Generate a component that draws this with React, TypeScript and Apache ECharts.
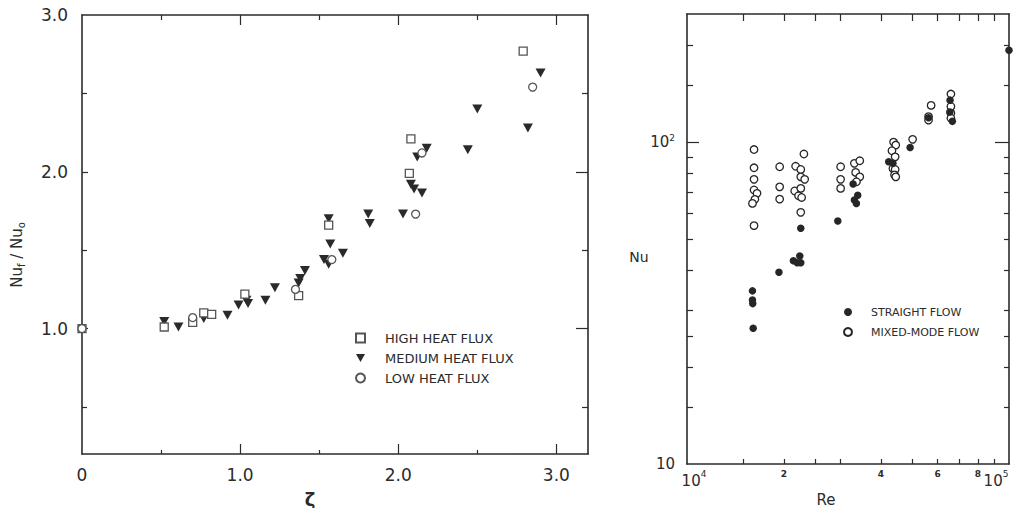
import React, { useEffect, useRef } from "react";
import * as echarts from "echarts";

const INK = "#2b2b2b";
const FONT = "DejaVu Sans";

// ---------- Left panel: Nu_f/Nu_o vs zeta ----------
const highZeta = [0, 0.52, 0.7, 0.77, 0.82, 1.03, 1.37, 1.56, 2.07, 2.08, 2.79];
const highRatio = [1.0, 1.01, 1.04, 1.1, 1.09, 1.22, 1.21, 1.66, 1.99, 2.21, 2.77];

const mediumZeta = [0.52, 0.61, 0.77, 0.92, 0.99, 1.04, 1.05, 1.16, 1.22, 1.37, 1.38, 1.41, 1.53, 1.56, 1.56, 1.57, 1.65, 1.81, 1.82, 2.03, 2.08, 2.1, 2.15, 2.12, 2.18, 2.44, 2.5, 2.82, 2.9];
const mediumRatio = [1.045, 1.01, 1.065, 1.085, 1.15, 1.18, 1.16, 1.18, 1.26, 1.29, 1.32, 1.37, 1.44, 1.41, 1.7, 1.54, 1.48, 1.73, 1.67, 1.73, 1.92, 1.89, 1.865, 2.095, 2.15, 2.14, 2.4, 2.28, 2.63];

const lowZeta = [0, 0.7, 1.35, 1.58, 2.11, 2.15, 2.85];
const lowRatio = [1.0, 1.07, 1.25, 1.44, 1.73, 2.12, 2.54];

const leftSeriesNames = ["HIGH HEAT FLUX", "MEDIUM HEAT FLUX", "LOW HEAT FLUX"];
const zetaMajorTicks = [1, 2, 3];
const zetaMinorTicks = [0.5, 1.5, 2.5];
const zetaLabels = [0, 1, 2, 3];
const ratioMajorTicks = [1, 2];
const ratioMinorTicks = [0.5, 1.5, 2.5];
const ratioLabels = [1, 2, 3];

// ---------- Right panel: Nu vs Re (log-log) ----------
const straightRe = [15970, 15970, 16000, 16050, 19300, 21400, 22000, 22400, 22560, 22560, 29400, 32800, 33100, 33580, 33900, 42300, 43600, 49300, 56250, 65600, 65500, 66700, 100000];
const straightNu = [34.5, 32.3, 31.5, 26.4, 39.4, 42.8, 42.2, 44.3, 42.2, 54.0, 56.9, 74.1, 66.1, 64.5, 68.4, 86.9, 85.9, 96.2, 119, 135, 124, 116, 193];

const mixedRe = [16150, 16150, 16150, 16150, 16500, 16250, 15970, 16150, 19400, 19400, 19400, 21740, 22560, 23070, 22560, 23200, 21600, 22560, 22200, 22700, 22560, 30000, 30000, 30000, 33100, 34400, 33400, 34400, 33600, 43800, 44500, 43300, 44300, 43600, 44300, 44100, 44500, 50200, 57300, 56250, 56250, 66000, 66000, 66000, 66000];
const mixedNu = [94.8, 83.2, 76.6, 71.0, 69.3, 66.4, 64.5, 55.0, 83.8, 72.6, 66.5, 84.1, 82.2, 91.8, 78.0, 76.6, 70.5, 71.8, 68.1, 67.3, 60.5, 83.8, 76.6, 71.8, 85.9, 87.5, 80.5, 78.0, 75.3, 100, 97.9, 94.0, 90.0, 82.8, 82.2, 79.1, 78.0, 102, 130, 120, 117, 141, 129, 123, 118.6];

const rightSeriesNames = ["STRAIGHT FLOW", "MIXED-MODE FLOW"];
const reTicks = [15000, 20000, 25000, 30000, 40000, 50000, 60000, 70000, 80000, 90000];
const reLabels = [10000, 20000, 40000, 60000, 80000, 100000];
const nuMajorTicks = [100];
const nuMinorTicks = [15, 20, 25, 30, 40, 50, 60, 70, 80, 90, 150, 200];
const nuLabels = [10, 100];

const pairs = (xs: number[], ys: number[]) => xs.map((x, i) => [x, ys[i]]);

type AxOpt = {
  line?: boolean;
  labels?: number[];
  fmt?: (v: number) => string;
  rich?: any;
  margin?: number;
  fontSize?: number;
};

function makeAxis(
  grid: number,
  type: "value" | "log",
  min: number,
  max: number,
  position: string,
  ticks: number[],
  len: number,
  o: AxOpt = {}
) {
  const ax: any = {
    type,
    gridIndex: grid,
    min,
    max,
    position,
    axisLine: { show: !!o.line, onZero: false, lineStyle: { color: INK, width: 1.6 } },
    axisTick: {
      show: ticks.length > 0,
      inside: true,
      length: len,
      customValues: ticks,
      lineStyle: { color: INK, width: 1.2 },
    },
    axisLabel: o.labels
      ? {
          show: true,
          customValues: o.labels,
          formatter: o.fmt,
          margin: o.margin ?? 8,
          color: INK,
          fontFamily: FONT,
          fontSize: o.fontSize ?? 14,
          rich: o.rich,
        }
      : { show: false },
    splitLine: { show: false },
    minorTick: { show: false },
    minorSplitLine: { show: false },
  };
  if (type === "log") ax.logBase = 10;
  return ax;
}

const zetaFmt = (v: number) => (Math.abs(v) < 1e-9 ? "0" : v.toFixed(1));

const reFmt = (v: number) => {
  const e = Math.round(Math.log10(v) * 1000) / 1000;
  if (Math.abs(e - 4) < 1e-6) return "{b1|10}{p|4}";
  if (Math.abs(e - 5) < 1e-6) return "{b2|10}{p2|5}";
  return "{s|" + Math.round(v / 10000) + "}";
};
const reRich = {
  b1: { fontSize: 15, lineHeight: 24, fontFamily: FONT, color: INK, padding: [0, 0, 0, 14] },
  b2: { fontSize: 15, lineHeight: 24, fontFamily: FONT, color: INK },
  p: { fontSize: 9, lineHeight: 16, verticalAlign: "top", fontFamily: FONT, color: INK },
  p2: { fontSize: 9, lineHeight: 16, verticalAlign: "top", fontFamily: FONT, color: INK, padding: [0, 26, 0, 0] },
  s: { fontSize: 9, lineHeight: 10, fontWeight: "bold", fontFamily: FONT, color: INK },
};

const nuFmt = (v: number) => (v > 50 ? "{b|10}{p|2}" : "{b|10}");
const nuRich = {
  b: { fontSize: 15, lineHeight: 18, fontFamily: FONT, color: INK },
  p: { fontSize: 9, lineHeight: 18, verticalAlign: "top", fontFamily: FONT, color: INK },
};

const downTriangle = "path://M0,0L10,0L5,9Z";

const option: any = {
  animation: false,
  backgroundColor: "#ffffff",
  textStyle: { fontFamily: FONT },
  grid: [
    { left: 82, top: 15, width: 506, height: 439, outerBoundsMode: "none", containLabel: false },
    { left: 687, top: 14, width: 322, height: 450, outerBoundsMode: "none", containLabel: false },
  ],
  xAxis: [
    makeAxis(0, "value", 0, 3.2, "bottom", zetaMajorTicks, 10, {
      line: true,
      labels: zetaLabels,
      fmt: zetaFmt,
      margin: 12,
      fontSize: 17,
    }),
    makeAxis(0, "value", 0, 3.2, "bottom", zetaMinorTicks, 4),
    makeAxis(0, "value", 0, 3.2, "top", zetaMajorTicks, 10, { line: true }),
    makeAxis(0, "value", 0, 3.2, "top", zetaMinorTicks, 5),
    makeAxis(1, "log", 10000, 100000, "bottom", reTicks, 5, {
      line: true,
      labels: reLabels,
      fmt: reFmt,
      rich: reRich,
      margin: 5,
      fontSize: 9,
    }),
    makeAxis(1, "log", 10000, 100000, "top", reTicks, 7, { line: true }),
  ],
  yAxis: [
    makeAxis(0, "value", 0.2, 3.0, "left", ratioMajorTicks, 6, {
      line: true,
      labels: ratioLabels,
      fmt: (v: number) => v.toFixed(1),
      margin: 14,
      fontSize: 17,
    }),
    makeAxis(0, "value", 0.2, 3.0, "left", ratioMinorTicks, 5),
    makeAxis(0, "value", 0.2, 3.0, "right", ratioMajorTicks, 12, { line: true }),
    makeAxis(0, "value", 0.2, 3.0, "right", ratioMinorTicks, 6),
    makeAxis(1, "log", 10, 250, "left", nuMajorTicks, 12, {
      line: true,
      labels: nuLabels,
      fmt: nuFmt,
      rich: nuRich,
      margin: 12,
      fontSize: 15,
    }),
    makeAxis(1, "log", 10, 250, "left", nuMinorTicks, 6),
    makeAxis(1, "log", 10, 250, "right", nuMajorTicks, 14, { line: true }),
    makeAxis(1, "log", 10, 250, "right", nuMinorTicks, 5),
  ],
  legend: [
    {
      data: [
        { name: leftSeriesNames[0] },
        { name: leftSeriesNames[1], icon: downTriangle },
        { name: leftSeriesNames[2] },
      ],
      orient: "vertical",
      left: 350,
      top: 326,
      itemWidth: 9,
      itemHeight: 9,
      itemGap: 6,
      selectedMode: false,
      textStyle: { fontFamily: FONT, fontSize: 13, lineHeight: 14, color: INK, padding: [0, 0, 0, 15] },
    },
    {
      data: rightSeriesNames,
      orient: "vertical",
      left: 838,
      top: 301,
      itemWidth: 8,
      itemHeight: 8,
      itemGap: 8,
      selectedMode: false,
      textStyle: { fontFamily: FONT, fontSize: 11, lineHeight: 12, color: INK, padding: [0, 0, 0, 14] },
    },
  ],
  series: [
    {
      name: leftSeriesNames[1],
      type: "scatter",
      xAxisIndex: 0,
      yAxisIndex: 0,
      symbol: "triangle",
      symbolRotate: 180,
      symbolSize: [10, 9],
      itemStyle: { color: "#2a2a2a", opacity: 1 },
      data: pairs(mediumZeta, mediumRatio),
    },
    {
      name: leftSeriesNames[0],
      type: "scatter",
      xAxisIndex: 0,
      yAxisIndex: 0,
      symbol: "rect",
      symbolSize: 8,
      itemStyle: { color: "#ffffff", borderColor: "#555555", borderWidth: 1.3, opacity: 1 },
      data: pairs(highZeta, highRatio),
    },
    {
      name: leftSeriesNames[2],
      type: "scatter",
      xAxisIndex: 0,
      yAxisIndex: 0,
      symbol: "circle",
      symbolSize: 8,
      itemStyle: { color: "#ffffff", borderColor: "#555555", borderWidth: 1.3, opacity: 1 },
      data: pairs(lowZeta, lowRatio),
    },
    {
      name: rightSeriesNames[1],
      type: "scatter",
      xAxisIndex: 4,
      yAxisIndex: 4,
      symbol: "circle",
      symbolSize: 7.5,
      itemStyle: { color: "#ffffff", borderColor: "#262626", borderWidth: 1.3, opacity: 1 },
      data: pairs(mixedRe, mixedNu),
    },
    {
      name: rightSeriesNames[0],
      type: "scatter",
      xAxisIndex: 4,
      yAxisIndex: 4,
      symbol: "circle",
      symbolSize: 7.5,
      itemStyle: { color: "#262626", opacity: 1 },
      data: pairs(straightRe, straightNu),
    },
  ],
  graphic: [
    {
      type: "text",
      x: 310,
      y: 499,
      style: {
        text: "ζ",
        fill: INK,
        font: "bold 18px DejaVu Sans",
        textAlign: "center",
        textVerticalAlign: "middle",
        align: "center",
        verticalAlign: "middle",
      },
    },
    {
      type: "text",
      x: 17,
      y: 255,
      rotation: Math.PI / 2,
      style: {
        text: "{n|Nu}{s|f}{n| / Nu}{s|o}",
        fill: INK,
        textAlign: "center",
        textVerticalAlign: "middle",
        align: "center",
        verticalAlign: "middle",
        rich: {
          n: { fontSize: 15, lineHeight: 18, fontFamily: FONT, fill: INK, color: INK },
          s: { fontSize: 10, lineHeight: 18, verticalAlign: "bottom", fontFamily: FONT, fill: INK, color: INK },
        },
      },
    },
    {
      type: "text",
      x: 639,
      y: 257,
      style: {
        text: "Nu",
        fill: INK,
        font: "14px DejaVu Sans",
        textAlign: "center",
        textVerticalAlign: "middle",
        align: "center",
        verticalAlign: "middle",
      },
    },
    {
      type: "text",
      x: 826,
      y: 500,
      style: {
        text: "Re",
        fill: INK,
        font: "15px DejaVu Sans",
        textAlign: "center",
        textVerticalAlign: "middle",
        align: "center",
        verticalAlign: "middle",
      },
    },
  ],
};

export default function App() {
  const ref = useRef<HTMLDivElement>(null);
  useEffect(() => {
    if (!ref.current) return;
    const chart = echarts.init(ref.current, null, { renderer: "svg" });
    chart.setOption(option);
    return () => chart.dispose();
  }, []);
  return (
    <div
      ref={ref}
      style={{ position: "fixed", left: 0, top: 0, width: 1013, height: 508, background: "#ffffff" }}
    />
  );
}
